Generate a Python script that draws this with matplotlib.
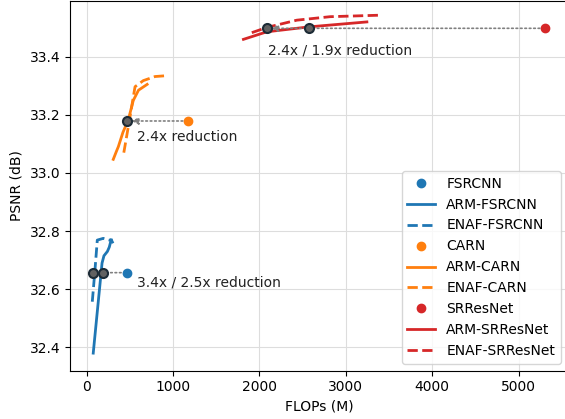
import matplotlib
matplotlib.use("Agg")
import matplotlib.pyplot as plt

# ------------------------------------------------------------
# Daten
# ------------------------------------------------------------
fsrcnn_base = (463, 32.657)
fsrcnn_red = [(68, 32.657), (186, 32.657)]
arm_fsrcnn_x = [76, 178, 200, 240, 262, 275, 285]
arm_fsrcnn_y = [32.38, 32.69, 32.715, 32.73, 32.745, 32.76, 32.77]
enaf_fsrcnn_x = [65, 96, 123, 192, 290, 305]
enaf_fsrcnn_y = [32.557, 32.666, 32.769, 32.775, 32.767, 32.758]

carn_base = (1177, 33.179)
carn_red = [(470, 33.179)]
arm_carn_x = [308, 345, 366, 420, 482, 540, 600, 700]
arm_carn_y = [33.047, 33.075, 33.09, 33.14, 33.183, 33.25, 33.285, 33.305]
enaf_carn_x = [430, 482, 521, 560, 656, 791, 927]
enaf_carn_y = [33.07, 33.159, 33.228, 33.297, 33.318, 33.332, 33.335]

srres_base = (5310, 33.498)
srres_red = [(2086, 33.498), (2576, 33.498)]
arm_srres_x = [1815, 2086, 2576, 3244]
arm_srres_y = [33.46, 33.486, 33.503, 33.520]
enaf_srres_x = [1912, 2086, 2433, 2819, 3379]
enaf_srres_y = [33.483, 33.501, 33.526, 33.538, 33.543]

notes = [
    ("3.4x / 2.5x reduction", 583, 32.624),
    ("2.4x reduction", 587, 33.125),
    ("2.4x / 1.9x reduction", 2104, 33.421),
]

C_BLUE = "#1f77b4"
C_ORANGE = "#ff7f0e"
C_RED = "#d62728"

# ------------------------------------------------------------
# Plot
# ------------------------------------------------------------
plt.rcParams["font.family"] = ["DejaVu Sans"]
fig = plt.figure(figsize=(5.65, 4.19), dpi=100)
ax = fig.add_axes([70 / 565, 48.3 / 419, 499.5 / 565, 369.7 / 419])

groups = [
    ("FSRCNN", C_BLUE, fsrcnn_base, fsrcnn_red,
     arm_fsrcnn_x, arm_fsrcnn_y, enaf_fsrcnn_x, enaf_fsrcnn_y),
    ("CARN", C_ORANGE, carn_base, carn_red,
     arm_carn_x, arm_carn_y, enaf_carn_x, enaf_carn_y),
    ("SRResNet", C_RED, srres_base, srres_red,
     arm_srres_x, arm_srres_y, enaf_srres_x, enaf_srres_y),
]

for name, col, base, red, ax_x, ax_y, en_x, en_y in groups:
    ax.plot([base[0]], [base[1]], "o", color=col, markersize=6, label=name, zorder=4)
    ax.plot(ax_x, ax_y, "-", color=col, lw=2, label="ARM-" + name, zorder=3)
    ax.plot(en_x, en_y, "--", color=col, lw=2, label="ENAF-" + name, zorder=3)
    target = min(red, key=lambda p: p[0])
    ax.annotate("", xy=target, xytext=base,
                arrowprops=dict(arrowstyle="-|>", linestyle=":", color="gray",
                                lw=1.2, shrinkA=4, shrinkB=3,
                                mutation_scale=10), zorder=4)
    for p in red:
        ax.plot([p[0]], [p[1]], "o", markersize=6.5, markerfacecolor="#616161",
                markeredgecolor="#1c2b36", markeredgewidth=1.5, zorder=5)

for txt, x, y in notes:
    ax.text(x, y, txt, fontsize=10, ha="left", va="center", color="#222222")

ax.set_xlim(-193, 5590)
ax.set_ylim(32.3195, 33.592)
ax.set_xticks([0, 1000, 2000, 3000, 4000, 5000])
ax.set_yticks([32.4, 32.6, 32.8, 33.0, 33.2, 33.4])
ax.grid(True, color="#dddddd", lw=0.8)
ax.set_axisbelow(True)
ax.tick_params(labelsize=10)
ax.set_xlabel("FLOPs (M)", fontsize=10)
ax.set_ylabel("PSNR (dB)", fontsize=10)
ax.legend(loc="lower right", fontsize=10, framealpha=0.8,
          bbox_to_anchor=(560.7 / 565, 55.3 / 419),
          bbox_transform=fig.transFigure, borderaxespad=0)

fig.savefig("out.png", dpi=100)
